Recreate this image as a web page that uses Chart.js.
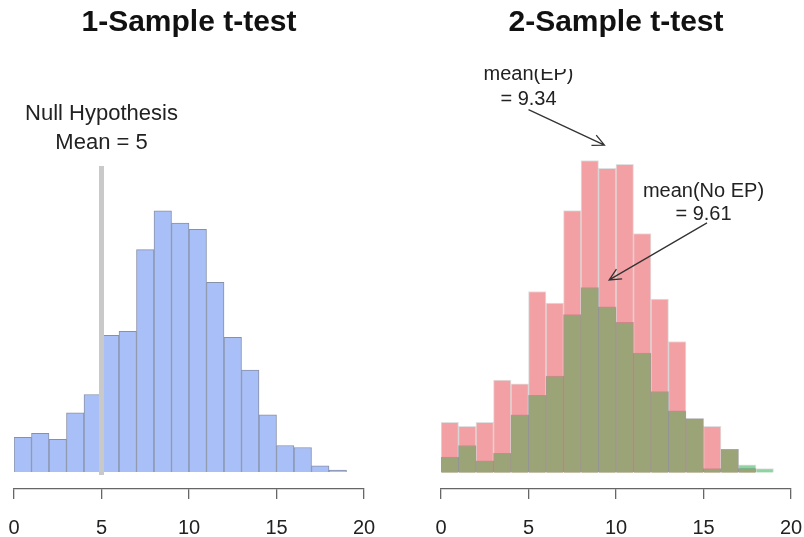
<!DOCTYPE html>
<html>
<head>
<meta charset="utf-8">
<script src="https://cdn.jsdelivr.net/npm/chart.js@4/dist/chart.umd.min.js"></script>
<style>
  body { margin: 0; background: #fff; }
  .wrap { position: absolute; top: 0; width: 402px; height: 537px; }
  #w1 { left: 0; }
  #w2 { left: 402px; }
</style>
</head>
<body>
<div class="wrap" id="w1"><canvas id="oneSample"></canvas></div>
<div class="wrap" id="w2"><canvas id="twoSample"></canvas></div>
<script>
// bins are [0,1), [1,2) ... [18,19)
const binStarts = [0, 1, 2, 3, 4, 5, 6, 7, 8, 9, 10, 11, 12, 13, 14, 15, 16, 17, 18];
const oneSampleCounts = [17, 19, 16, 29, 38, 67, 69, 109, 128, 122, 119, 93, 66, 50, 28, 13, 12, 3, 1];
const epCounts = [13, 12, 13, 24, 23, 47, 44, 68, 81, 79, 80, 62, 45, 34, 14, 12, 6, 1, 0];
const noEpCounts = [4, 7, 3, 5, 15, 20, 25, 41, 48, 43, 39, 31, 21, 16, 14, 1, 6, 2, 1];
const xTicks = [0, 5, 10, 15, 20];
const nullMean = 5;
const meanEP = 9.34;
const meanNoEP = 9.61;

const FONT = "'Liberation Sans', Arial, Helvetica, sans-serif";

function toPoints(counts) {
  return binStarts.map((b, i) => ({ x: b + 0.5, y: counts[i] }));
}

function xAxis() {
  return {
    type: "linear",
    offset: false,
    min: xTicks[0],
    max: xTicks[xTicks.length - 1],
    afterFit: s => { s.height = 48; s.paddingLeft = 0; s.paddingRight = 0; },
    afterBuildTicks: s => { s.ticks = xTicks.map(v => ({ value: v })); },
    grid: { display: true, offset: false, drawOnChartArea: false, drawTicks: true, tickLength: 10, color: "#666", lineWidth: 1.3 },
    border: { display: true, color: "#666", width: 1.3 },
    ticks: { color: "#222", padding: 17, font: { family: FONT, size: 20 } },
  };
}

function drawTitle(chart, text) {
  const ctx = chart.ctx;
  const a = chart.chartArea;
  ctx.save();
  ctx.fillStyle = "#111";
  ctx.font = "bold 30px " + FONT;
  ctx.textAlign = "center";
  ctx.textBaseline = "middle";
  ctx.fillText(text, (a.left + a.right) / 2, 23);
  ctx.restore();
}

function arrow(ctx, x1, y1, x2, y2) {
  const ang = Math.atan2(y2 - y1, x2 - x1);
  const h = 13;
  ctx.beginPath();
  ctx.moveTo(x1, y1);
  ctx.lineTo(x2, y2);
  ctx.moveTo(x2 - h * Math.cos(ang - 0.45), y2 - h * Math.sin(ang - 0.45));
  ctx.lineTo(x2, y2);
  ctx.lineTo(x2 - h * Math.cos(ang + 0.45), y2 - h * Math.sin(ang + 0.45));
  ctx.stroke();
}

const oneSampleDecor = {
  id: "oneSampleDecor",
  afterDatasetsDraw(chart) {
    const ctx = chart.ctx;
    const xs = chart.scales.x, ys = chart.scales.y;
    const x = xs.getPixelForValue(nullMean);
    ctx.save();
    ctx.strokeStyle = "#c9c9c9";
    ctx.lineWidth = 5;
    ctx.beginPath();
    ctx.moveTo(x, ys.getPixelForValue(150));
    ctx.lineTo(x, ys.getPixelForValue(-1.5));
    ctx.stroke();
    ctx.fillStyle = "#222";
    ctx.font = "22px " + FONT;
    ctx.textAlign = "center";
    ctx.textBaseline = "middle";
    ctx.fillText("Null Hypothesis", x, 114);
    ctx.fillText("Mean = " + nullMean, x, 143);
    ctx.restore();
    drawTitle(chart, "1-Sample t-test");
  }
};

const twoSampleDecor = {
  id: "twoSampleDecor",
  afterDatasetsDraw(chart) {
    const ctx = chart.ctx;
    const xs = chart.scales.x, ys = chart.scales.y;
    ctx.save();
    ctx.fillStyle = "#222";
    ctx.strokeStyle = "#333";
    ctx.lineWidth = 1.3;
    ctx.font = "20px " + FONT;
    ctx.textAlign = "center";
    ctx.textBaseline = "middle";
    // EP label (top is cut off like the original)
    ctx.save();
    ctx.beginPath();
    ctx.rect(0, 69, chart.width, chart.height);
    ctx.clip();
    ctx.fillText("mean(EP)", xs.getPixelForValue(5), ys.getPixelForValue(103.4));
    ctx.restore();
    ctx.fillText("= " + meanEP, xs.getPixelForValue(5), ys.getPixelForValue(96.8));
    arrow(ctx, xs.getPixelForValue(5), ys.getPixelForValue(94.2), xs.getPixelForValue(meanEP), ys.getPixelForValue(85));
    ctx.fillText("mean(No EP)", xs.getPixelForValue(15), ys.getPixelForValue(72.9));
    ctx.fillText("= " + meanNoEP, xs.getPixelForValue(15), ys.getPixelForValue(66.9));
    arrow(ctx, xs.getPixelForValue(15.2), ys.getPixelForValue(64.8), xs.getPixelForValue(meanNoEP), ys.getPixelForValue(50));
    ctx.restore();
    drawTitle(chart, "2-Sample t-test");
  }
};

const baseOptions = {
  responsive: true,
  maintainAspectRatio: false,
  animation: false,
  plugins: { legend: { display: false }, tooltip: { enabled: false } },
  datasets: { bar: { barPercentage: 1, categoryPercentage: 1, grouped: false } },
};

new Chart(document.getElementById("oneSample"), {
  type: "bar",
  data: {
    datasets: [{
      label: "Sample",
      data: toPoints(oneSampleCounts),
      backgroundColor: "#a9bff7",
      borderColor: "#8790a8",
      borderWidth: 1,
    }]
  },
  options: {
    ...baseOptions,
    layout: { padding: { top: 60, bottom: 0, left: 14, right: 38 } },
    scales: {
      x: xAxis(),
      y: { display: false, min: -8.33, max: 202 },
    },
  },
  plugins: [oneSampleDecor],
});

const overlap = epCounts.map((v, i) => Math.min(v, noEpCounts[i]));

new Chart(document.getElementById("twoSample"), {
  type: "bar",
  data: {
    datasets: [
      { label: "No EP", data: toPoints(noEpCounts), backgroundColor: "#8fd3a0", borderColor: "rgba(0,0,0,0.12)", borderWidth: 1, order: 3 },
      { label: "EP", data: toPoints(epCounts), backgroundColor: "#f2a0a4", borderColor: "rgba(0,0,0,0.12)", borderWidth: 1, order: 2 },
      { label: "both", data: toPoints(overlap), backgroundColor: "#9aa477", borderColor: "rgba(0,0,0,0.15)", borderWidth: 1, order: 1 },
    ]
  },
  options: {
    ...baseOptions,
    layout: { padding: { top: 60, bottom: 0, left: 39, right: 13 } },
    scales: {
      x: xAxis(),
      y: { display: false, min: -4.29, max: 107.1 },
    },
  },
  plugins: [twoSampleDecor],
});
</script>
</body>
</html>
